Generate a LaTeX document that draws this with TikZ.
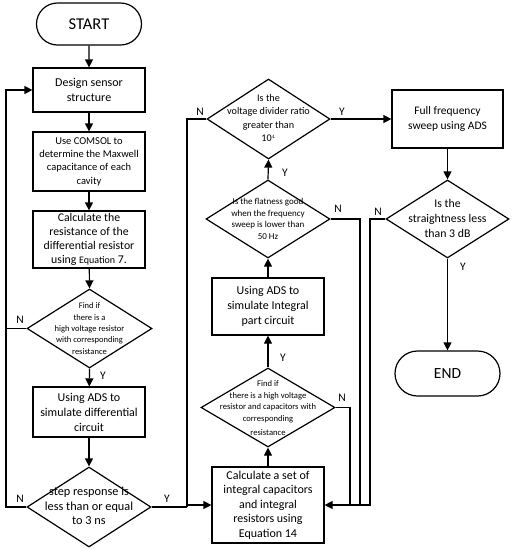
\documentclass[tikz,border=0pt]{standalone}
\usepackage{fontspec}
\setmainfont{Carlito}
\usetikzlibrary{shapes.geometric,shapes.misc,arrows.meta}
\begin{document}
\begin{tikzpicture}[x=1pt,y=-1pt,
  line width=1.2pt,
  arr/.style={-{Triangle[length=8pt,width=8pt]}},
  box/.style={draw,rectangle,inner sep=0pt,align=center},
  term/.style={draw,rounded rectangle,inner sep=0pt,minimum width=105pt},
  dia/.style 2 args={draw,diamond,inner sep=0pt,minimum width=#1pt,minimum height=#2pt},
  lab/.style={font=\fontsize{11.5}{13}\selectfont,inner sep=1pt}
]
\useasboundingbox (0,0) rectangle (514,550);
% left column
\node[term,minimum height=42pt,font=\fontsize{16.5}{18}\selectfont] (start) at (89,24) {START};
\node[box,minimum width=112pt,minimum height=44pt,font=\fontsize{12}{15}\selectfont] (design) at (89,90) {Design sensor\\structure};
\node[box,minimum width=112pt,minimum height=59pt,font=\fontsize{10.5}{13.3}\selectfont] (comsol) at (89,161.5) {Use COMSOL to\\determine the Maxwell\\capacitance of each\\cavity};
\node[box,minimum width=112pt,minimum height=57pt,font=\fontsize{11.8}{14.2}\selectfont] (calc) at (89,239.5) {Calculate the\\resistance of the\\differential resistor\\using {\fontsize{10}{12}\selectfont Equation} 7.};
\node[dia={125}{79}] (find1) at (89.5,328.5) {};
\node[font=\fontsize{8.5}{11.3}\selectfont,align=center] at (find1) {Find if\\there is a\\high voltage resistor\\with corresponding\\resistance};
\node[box,minimum width=112pt,minimum height=50pt,font=\fontsize{12}{15}\selectfont] (adsdiff) at (89,412) {Using ADS to\\simulate differential\\circuit};
\node[dia={124}{80}] (step) at (89,507) {};
\node[font=\fontsize{12.3}{14.5}\selectfont,align=center] at (89,506) {step response is\\less than or equal\\to 3 ns};
% middle column
\node[box,minimum width=112pt,minimum height=76pt,font=\fontsize{12}{14.5}\selectfont] (calcset) at (268,505) {Calculate a set of\\integral capacitors\\and integral\\resistors using\\Equation 14};
\node[dia={134}{79}] (find2) at (268,407.5) {};
\node[font=\fontsize{8.6}{11.7}\selectfont,align=center] at (268,408) {Find if\\there is a high voltage\\resistor and capacitors with\\corresponding\\[2pt]resistance};
\node[box,minimum width=112pt,minimum height=57pt,font=\fontsize{12}{15}\selectfont] (adsint) at (268,306.5) {Using ADS to\\simulate Integral\\part circuit};
\node[dia={124}{78}] (flat) at (268,219) {};
\node[font=\fontsize{9}{11.5}\selectfont,align=center] at (268,219) {Is the flatness good\\when the frequency\\sweep is lower than\\50 Hz};
\node[dia={123}{80}] (volt) at (268.5,119) {};
\node[font=\fontsize{10.2}{13.5}\selectfont,align=center] at (268.5,118) {Is the\\voltage divider ratio\\greater than\\10$^{\scriptscriptstyle 4}$};
% right column
\node[box,minimum width=111pt,minimum height=58pt,font=\fontsize{11.5}{15}\selectfont] (full) at (447.5,119) {Full frequency\\sweep using ADS};
\node[dia={123}{78}] (straight) at (447.5,219) {};
\node[font=\fontsize{11.8}{15}\selectfont,align=center] at (447.5,218) {Is the\\straightness less\\than 3 dB};
\node[term,minimum height=45pt,font=\fontsize{15.5}{17}\selectfont] (end) at (447.5,373.5) {END};
% connectors
\draw[arr] (start) -- (design);
\draw[arr] (design) -- (comsol);
\draw[arr] (comsol) -- (calc);
\draw[arr] (calc) -- (find1.north);
\draw[arr] (find1.south) -- (adsdiff);
\node[lab] at (103,376) {Y};
\draw[arr] (adsdiff) -- (step.north);
\coordinate (lb) at (6,507);
\coordinate (lt) at (6,90);
\draw[arr] (step.west) -- (lb) -- (lt) -- (design.west);
\draw (find1.west) -- (6,328.5);
\node[lab] at (20,320) {N};
\node[lab] at (20,499) {N};
\coordinate (sy) at (187,507);
\draw (step.east) -- (sy);
\node[lab] at (167,499) {Y};
\draw[arr] (sy) -- (187,505) -- (calcset.west);
\draw (volt.west) -- (187,119) -- (187,505);
\node[lab] at (200,112) {N};
\draw[arr] (calcset.north) -- (find2.south);
\draw[arr] (find2.north) -- (adsint.south);
\node[lab] at (283,358) {Y};
\draw[arr] (adsint.north) -- (flat.south);
\draw[arr] (flat.north) -- (volt.south);
\node[lab] at (285,173) {Y};
\draw[arr] (volt.east) -- (full.west);
\node[lab] at (342,112) {Y};
\draw[arr] (full.south) -- (straight.north);
\draw[arr] (straight.south) -- (end.north);
\node[lab] at (463,267) {Y};
\draw[arr] (find2.east) -- (350,407.5) -- (350,505) -- (calcset.east);
\node[lab] at (342,398) {N};
\draw (flat.east) -- (360,219) -- (360,505) -- (350,505);
\node[lab] at (338,209) {N};
\draw (straight.west) -- (370,219) -- (370,505) -- (360,505);
\node[lab] at (378,212) {N};
\end{tikzpicture}
\end{document}
